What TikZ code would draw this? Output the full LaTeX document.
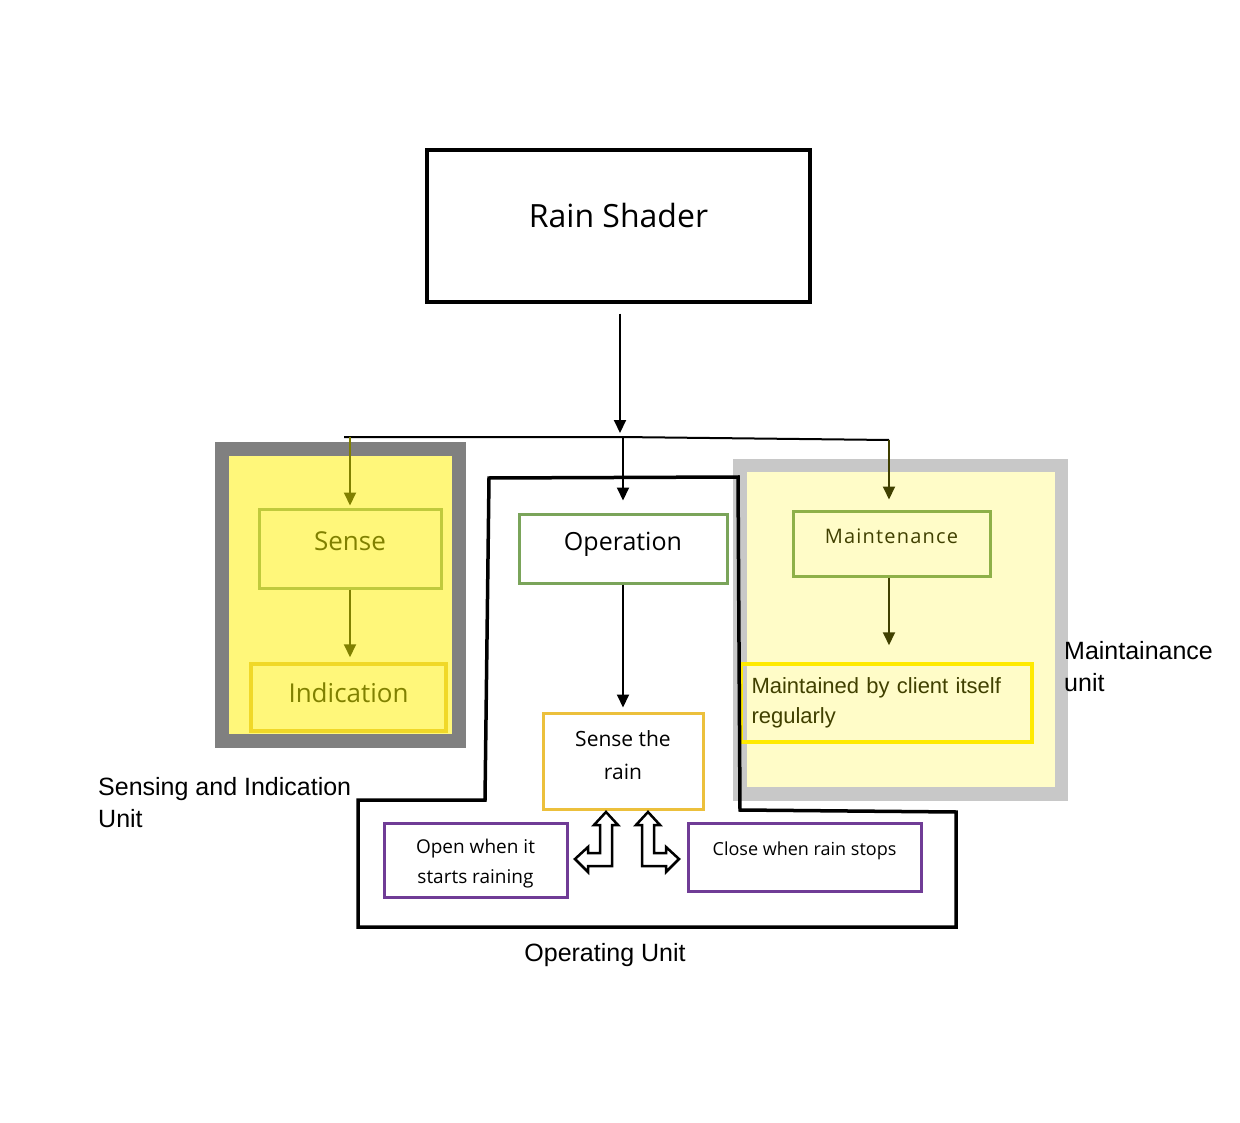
\documentclass[tikz,border=0pt]{standalone}
\usepackage{fontspec}
\setmainfont{Open Sans}
\newfontfamily\arialfont{Liberation Sans}
\usetikzlibrary{arrows.meta}

\definecolor{olivetext}{RGB}{128,128,0}
\definecolor{darkolive}{RGB}{64,64,0}
\definecolor{sensegreen}{RGB}{192,202,60}
\definecolor{indgold}{RGB}{240,216,40}
\definecolor{opgreen}{RGB}{122,164,90}
\definecolor{raingold}{RGB}{236,192,60}
\definecolor{openpurple}{RGB}{112,60,150}
\definecolor{maintgreen}{RGB}{142,176,72}
\definecolor{maintyellow}{RGB}{255,234,0}
\definecolor{darkgrey}{RGB}{128,128,128}
\definecolor{lightgrey}{RGB}{200,200,200}
\definecolor{sensefill}{RGB}{255,247,122}
\definecolor{maintfill}{RGB}{255,252,200}

\tikzset{
  block/.style={draw, line width=3pt, inner sep=0pt, align=center},
  link/.style={-{Triangle[length=13pt,width=12pt]}, line width=2pt},
  unitlabel/.style={anchor=west, align=left, inner sep=0pt,
    font=\arialfont\fontsize{25}{32}\selectfont},
}

\begin{document}
\begin{tikzpicture}[x=1pt,y=-1pt]
  \useasboundingbox (0,0) rectangle (1240,1123);
  % unit backgrounds
  \fill[darkgrey] (215,442) rectangle (466,748);
  \fill[sensefill] (229,456) rectangle (452,734);
  \fill[lightgrey] (733,459) rectangle (1068,801);
  \fill[maintfill] (747,472) rectangle (1055,787);

  % blocks
  \node[block, line width=3.5pt, minimum width=383pt, minimum height=152pt,
    font=\fontsize{32}{38}\selectfont, text height=24pt, text depth=20pt] (shader) at (618.5,226) {Rain Shader};
  \node[block, draw=sensegreen, minimum width=182pt, minimum height=79pt, text=olivetext,
    font=\fontsize{26}{31}\selectfont, text height=20pt, text depth=17pt] (sense) at (350,548.5) {Sense};
  \node[block, draw=indgold, line width=3.5pt, minimum width=195pt, minimum height=67pt, text=olivetext,
    font=\fontsize{26}{31}\selectfont, text height=20pt, text depth=11pt] (indication) at (348.5,697.5) {Indication};
  \node[block, draw=opgreen, minimum width=208pt, minimum height=69pt,
    font=\fontsize{25}{30}\selectfont, text height=20pt, text depth=17pt] (operation) at (623,548.5) {Operation};
  \node[block, draw=raingold, minimum width=160pt, minimum height=96pt,
    font=\fontsize{21}{33}\selectfont, text height=49pt, text depth=12pt] (rain) at (623,761) {Sense the\\rain};
  \node[block, draw=openpurple, minimum width=183pt, minimum height=74pt,
    font=\fontsize{19}{30}\selectfont, text height=56pt, text depth=8.4pt] (open) at (475.5,860) {Open when it\\starts raining};
  \node[block, draw=openpurple, minimum width=233pt, minimum height=68pt,
    font=\fontsize{18}{22}\selectfont, text height=14pt, text depth=17pt] (close) at (804.5,857) {Close when rain stops};
  \node[block, draw=maintgreen, minimum width=197pt, minimum height=65pt, text=darkolive,
    font=\fontsize{20}{24}\selectfont\addfontfeature{LetterSpace=6}, text height=16pt, text depth=17pt] (maintenance) at (891.5,543.5) {Maintenance};
  \node[block, draw=maintyellow, line width=3.5pt, minimum width=291pt, minimum height=78pt, text=darkolive,
    align=left, text width=270pt, font=\arialfont\fontsize{22}{30}\selectfont] (client) at (886.5,703) {Maintained by client itself\\regularly};

  % connectors
  \coordinate (busL) at (344,437);
  \coordinate (busM) at (620,437);
  \coordinate (busR) at (889,440);
  \draw[line width=2pt] (busL) -- (busM) -- (busR);
  \draw[link, shorten <=10pt, shorten >=4pt] (shader.south -| busM) -- (busM);
  \draw[link, olivetext, shorten >=2pt] (sense.north |- busL) -- (sense.north);
  \draw[link, shorten >=12pt] (operation.north |- busM) -- (operation.north);
  \draw[link, darkolive, shorten >=10pt] (busR) -- (maintenance.north -| busR);
  \draw[link, olivetext, shorten >=5pt] (sense.south) -- (sense.south |- indication.north);
  \draw[link, shorten >=4pt] (operation.south) -- (rain.north);
  \draw[link, darkolive, shorten >=17pt] (maintenance.south -| busR) -- (client.north -| busR);

  % hollow bent arrows
  \draw[line width=2.5pt, fill=white] (606,812) -- (618,825) -- (612,825) -- (612,866) -- (588,866) -- (588,872)
    -- (575,859) -- (588,847) -- (588,853) -- (600,853) -- (600,825) -- (594,825) -- cycle;
  \draw[line width=2.5pt, fill=white] (648,812) -- (636,825) -- (642,825) -- (642,866) -- (666,866) -- (666,872)
    -- (679,859) -- (666,847) -- (666,853) -- (654,853) -- (654,825) -- (660,825) -- cycle;

  % operating unit outline
  \draw[line width=3.5pt] (489,478) -- (738,477) -- (740,810) -- (956,812) -- (956,927)
    -- (358,927) -- (358,800) -- (485,800) -- cycle;

  % unit labels
  \node[unitlabel] (sensingunit) at (98,803) {Sensing and Indication\\Unit};
  \node[unitlabel] (maintunit) at (1064,667) {Maintainance\\unit};
  \node[unitlabel, anchor=center] (opunit) at (605,955) {Operating Unit};
\end{tikzpicture}
\end{document}
